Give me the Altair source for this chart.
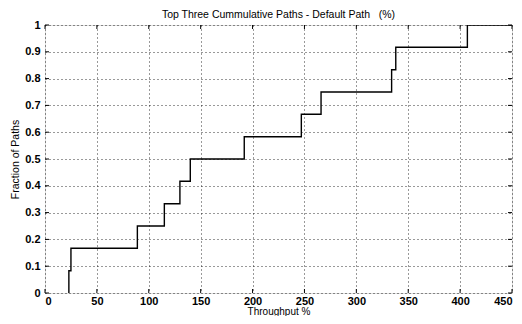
import altair as alt
import pandas as pd

# CDF step points
throughput = [23, 23, 25, 89, 115, 130, 140, 192, 247, 266, 334, 338, 407, 450]
fraction = [0, 0.083, 0.167, 0.25, 0.333, 0.417, 0.5, 0.583, 0.667, 0.75, 0.833, 0.917, 1.0, 1.0]

x_ticks = [0, 50, 100, 150, 200, 250, 300, 350, 400, 450]
y_ticks = [0, 0.1, 0.2, 0.3, 0.4, 0.5, 0.6, 0.7, 0.8, 0.9, 1.0]

df = pd.DataFrame({"x": throughput, "y": fraction, "order": list(range(len(throughput)))})
dfx = pd.DataFrame({"x": x_ticks})
dfy = pd.DataFrame({"y": y_ticks})

FONT = "Liberation Sans"
W, H = 467, 268

xscale = alt.Scale(domain=[0, 450], nice=False, zero=False)
yscale = alt.Scale(domain=[0, 1], nice=False)

xaxis = alt.Axis(title="Throughput %", values=x_ticks, format="d",
                 grid=True, gridColor="black", gridDash=[1, 3], gridOpacity=0.8,
                 ticks=False, domain=False, labelPadding=2,
                 labelFontSize=11, labelFontWeight="bold", labelColor="black",
                 labelFont=FONT, titleFont=FONT, titleFontSize=10,
                 titleFontWeight="normal", titleColor="black", titlePadding=0)
yaxis = alt.Axis(title="Fraction of Paths", values=y_ticks, format=".1~f",
                 grid=True, gridColor="black", gridDash=[1, 3], gridOpacity=0.8,
                 ticks=False, domain=False, labelPadding=5,
                 labelFontSize=11, labelFontWeight="bold", labelColor="black",
                 labelFont=FONT, titleFont=FONT, titleFontSize=10.5,
                 titleFontWeight="normal", titleColor="black", titlePadding=4)

line = alt.Chart(df).mark_line(
    interpolate="step-after", color="black", strokeWidth=1.4, clip=True
).encode(
    x=alt.X("x:Q", scale=xscale, axis=xaxis),
    y=alt.Y("y:Q", scale=yscale, axis=yaxis),
    order="order:Q",
)

xt_bottom = alt.Chart(dfx).mark_rule(color="black", strokeWidth=1).encode(
    x=alt.X("x:Q", scale=xscale, axis=xaxis), y=alt.value(H), y2=alt.value(H - 4))
xt_top = alt.Chart(dfx).mark_rule(color="black", strokeWidth=1).encode(
    x=alt.X("x:Q", scale=xscale, axis=xaxis), y=alt.value(0), y2=alt.value(4))
yt_left = alt.Chart(dfy).mark_rule(color="black", strokeWidth=1).encode(
    y=alt.Y("y:Q", scale=yscale, axis=yaxis), x=alt.value(0), x2=alt.value(4))
yt_right = alt.Chart(dfy).mark_rule(color="black", strokeWidth=1).encode(
    y=alt.Y("y:Q", scale=yscale, axis=yaxis), x=alt.value(W), x2=alt.value(W - 4))

chart = alt.layer(line, xt_bottom, xt_top, yt_left, yt_right).properties(
    width=W,
    height=H,
    title=alt.TitleParams("Top Three Cummulative Paths - Default Path\u00a0\u00a0\u00a0(%)",
                          font=FONT, fontSize=10.5, fontWeight="normal", color="black",
                          offset=0, dy=1, anchor="middle"),
    autosize=alt.AutoSizeParams(type="none"),
    padding={"left": 37, "top": 17, "right": 2, "bottom": 23},
).configure_view(stroke="black", strokeWidth=1.2).configure(background="white")

chart.save("out.html", embed_options={"renderer": "svg", "actions": False})
